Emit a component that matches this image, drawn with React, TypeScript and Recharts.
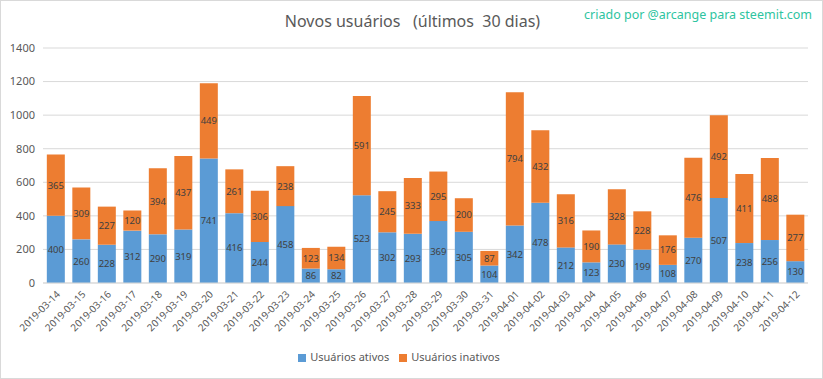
import { BarChart, Bar, XAxis, YAxis, CartesianGrid, Legend, LabelList } from 'recharts';

const dates = [
  '2019-03-14', '2019-03-15', '2019-03-16', '2019-03-17', '2019-03-18', '2019-03-19',
  '2019-03-20', '2019-03-21', '2019-03-22', '2019-03-23', '2019-03-24', '2019-03-25',
  '2019-03-26', '2019-03-27', '2019-03-28', '2019-03-29', '2019-03-30', '2019-03-31',
  '2019-04-01', '2019-04-02', '2019-04-03', '2019-04-04', '2019-04-05', '2019-04-06',
  '2019-04-07', '2019-04-08', '2019-04-09', '2019-04-10', '2019-04-11', '2019-04-12',
];

const ativos = [
  400, 260, 228, 312, 290, 319, 741, 416, 244, 458, 86, 82, 523, 302, 293,
  369, 305, 104, 342, 478, 212, 123, 230, 199, 108, 270, 507, 238, 256, 130,
];

const inativos = [
  365, 309, 227, 120, 394, 437, 449, 261, 306, 238, 123, 134, 591, 245, 333,
  295, 200, 87, 794, 432, 316, 190, 328, 228, 176, 476, 492, 411, 488, 277,
];

const yTicks = [0, 200, 400, 600, 800, 1000, 1200, 1400];

const data = dates.map((d, i) => ({ date: d, ativos: ativos[i], inativos: inativos[i] }));

const font = '"Noto Sans", sans-serif';

function DateTick(props: any) {
  const { x, y, payload } = props;
  return (
    <g transform={`translate(${x + 5},${y + 4})`}>
      <text
        textAnchor="end"
        transform="rotate(-45)"
        fontSize={10}
        fill="#595959"
        fontFamily={font}
      >
        {payload.value}
      </text>
    </g>
  );
}

export default function App() {
  return (
    <div
      style={{
        position: 'fixed',
        left: 0,
        top: 0,
        width: 823,
        height: 379,
        background: '#fff',
        boxSizing: 'border-box',
        border: '1px solid #d9d9d9',
        fontFamily: font,
      }}
    >
      <div
        style={{
          position: 'absolute',
          left: 0,
          width: 823,
          top: 9,
          textAlign: 'center',
          fontSize: 16,
          color: '#595959',
          whiteSpace: 'pre',
        }}
      >
        {'Novos usuários   (últimos  30 dias)'}
      </div>
      <div
        style={{
          position: 'absolute',
          right: 10,
          top: 5,
          fontSize: 12.5,
          color: '#2ec4a0',
        }}
      >
        criado por @arcange para steemit.com
      </div>
      <div style={{ position: 'absolute', left: -1, top: -1 }}>
        <BarChart
          width={823}
          height={379}
          data={data}
          margin={{ top: 48, right: 15, bottom: 0, left: 0 }}
          barCategoryGap="15%"
        >
          <CartesianGrid vertical={false} stroke="#d9d9d9" />
          <XAxis
            dataKey="date"
            interval={0}
            tick={<DateTick />}
            tickLine={false}
            axisLine={{ stroke: '#d9d9d9' }}
            height={60}
          />
          <YAxis
            ticks={yTicks}
            domain={[0, 1400]}
            width={43}
            axisLine={false}
            tickLine={false}
            tick={{ fontSize: 11, fill: '#595959', fontFamily: font }}
          />
          <Legend
            verticalAlign="bottom"
            height={36}
            iconType="square"
            iconSize={8}
            wrapperStyle={{ fontSize: 11, fontFamily: font, color: '#595959', bottom: -6 }}
            formatter={(v: string) => <span style={{ color: '#595959' }}>{v}</span>}
          />
          <Bar dataKey="ativos" name="Usuários ativos" stackId="a" fill="#5b9bd5" isAnimationActive={false}>
            <LabelList dataKey="ativos" position="center" fontSize={9.5} fill="#404040" fontFamily={font} />
          </Bar>
          <Bar dataKey="inativos" name="Usuários inativos" stackId="a" fill="#ed7d31" isAnimationActive={false}>
            <LabelList dataKey="inativos" position="center" fontSize={9.5} fill="#404040" fontFamily={font} />
          </Bar>
        </BarChart>
      </div>
    </div>
  );
}
